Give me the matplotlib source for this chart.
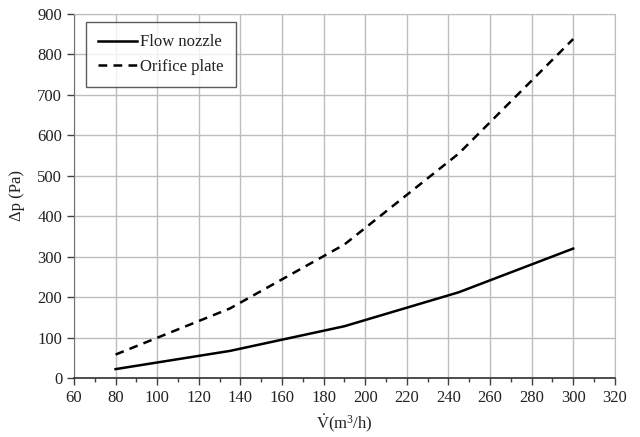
import matplotlib
matplotlib.use("Agg")
import matplotlib.pyplot as plt
from matplotlib.ticker import MultipleLocator

# Volume flow rate (m^3/h)
flow = [80, 135, 190, 245, 300]
# Pressure drop (Pa)
nozzle_dp = [22, 67, 128, 212, 320]
orifice_dp = [58, 172, 330, 555, 838]

plt.rcParams['font.family'] = ['Liberation Serif', 'DejaVu Serif']
plt.rcParams['mathtext.fontset'] = 'custom'
plt.rcParams['mathtext.rm'] = 'Liberation Serif'
plt.rcParams['mathtext.it'] = 'Liberation Serif:italic'

fig = plt.figure(figsize=(6.4, 4.37), dpi=100)
ax = fig.add_axes([0.1156, 0.135, 0.845, 0.833])

ax.plot(flow, nozzle_dp, color='black', linewidth=1.8, label='Flow nozzle')
ax.plot(flow, orifice_dp, color='black', linewidth=1.8, linestyle=(0, (3.5, 2.5)),
        label='Orifice plate')

ax.set_xlim(60, 320)
ax.set_ylim(0, 900)
ax.xaxis.set_major_locator(MultipleLocator(20))
ax.xaxis.set_minor_locator(MultipleLocator(10))
ax.yaxis.set_major_locator(MultipleLocator(100))

ax.grid(True, which='major', color='#bdbdbd', linewidth=1.0)
ax.set_axisbelow(True)

ax.tick_params(axis='both', which='major', labelsize=12, direction='out',
               length=5, color='#404040', width=1, colors='#222222')
ax.tick_params(axis='x', which='minor', direction='out', length=3, width=1,
               color='#404040')

for side in ['top', 'right']:
    ax.spines[side].set_color('#bdbdbd')
ax.spines['left'].set_color('#707070')
ax.spines['bottom'].set_color('#303030')
ax.spines['bottom'].set_linewidth(1.2)

ax.set_xlabel(r'$\dot{\mathrm{V}}$(m$^3$/h)', fontsize=12, labelpad=5, color='#222222')
ax.set_ylabel('\u0394p (Pa)', fontsize=12, labelpad=9, color='#222222')

leg = ax.legend(loc='upper left', fontsize=12, frameon=True, fancybox=False,
                edgecolor='#333333', handlelength=2.3, handletextpad=0.2,
                borderpad=0.75, labelspacing=0.5, borderaxespad=0,
                bbox_to_anchor=(0.022, 0.978))
leg.get_frame().set_linewidth(1.0)
for t in leg.get_texts():
    t.set_color('#222222')

fig.savefig('out.png', dpi=100)
